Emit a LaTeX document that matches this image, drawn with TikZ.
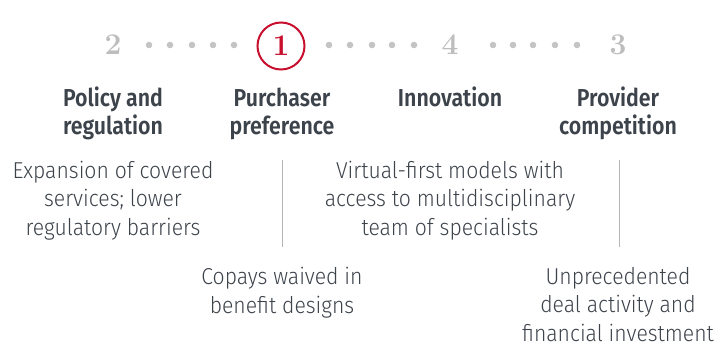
\documentclass[tikz,border=0pt]{standalone}
\usepackage{fontspec}
\newfontfamily\headfont{Fira Sans}[UprightFont={* SemiBold}, FakeStretch=0.87]
\newfontfamily\bodyfont{Fira Sans}[UprightFont={* Light}, FakeStretch=0.92]
\definecolor{numgray}{HTML}{BDBDBD}
\definecolor{dotgray}{HTML}{C4C4C4}
\definecolor{txt}{HTML}{3D434B}
\definecolor{accent}{HTML}{C8102E}
\definecolor{rule}{HTML}{B5B5B5}
\begin{document}
\begin{tikzpicture}[x=1pt,y=-1pt,
  num/.style={font=\fontsize{30}{30}\selectfont\bfseries, text=numgray, inner sep=0pt},
  head/.style={font=\headfont\fontsize{24.5}{28}\selectfont, text=txt, align=center, anchor=base, inner sep=0pt},
  body/.style={font=\bodyfont\fontsize{23}{28.5}\selectfont, text=txt, align=center, anchor=base, inner sep=0pt},
  dot/.style={fill=dotgray}]
\useasboundingbox (0,0) rectangle (718,351);
% step numbers
\node[num] (n2) at (113,45) {2};
\node[num, text=accent] (n1) at (281,46) {1};
\draw[accent, line width=2pt] (281,46) circle (23.5);
\node[num] (n4) at (450,45) {4};
\node[num] (n3) at (618,45) {3};
\foreach \x in {149,170,192,213,234,329,350,372,392,414,493,513,533,555,577}
  \fill[dot] (\x,45) circle (3.3);
% headings (anchor = baseline of last line)
\node[head] (h1) at (113,134) {Policy and\\regulation};
\node[head] (h2) at (282,134) {Purchaser\\preference};
\node[head] (h3) at (450,106) {Innovation};
\node[head] (h4) at (618,134) {Provider\\competition};
% descriptions
\node[body] (d1) at (113,235) {Expansion of covered\\services; lower\\regulatory barriers};
\node[body] (d3) at (450,235) {Virtual-first models with\\access to multidisciplinary\\team of specialists};
\node[body] (d2) at (282,313) {Copays waived in\\benefit designs};
\node[body] (d4) at (618,341) {Unprecedented\\deal activity and\\financial investment};
% separators
\coordinate (s1a) at (282,160); \coordinate (s1b) at (282,247);
\coordinate (s2a) at (619,160); \coordinate (s2b) at (619,247);
\draw[rule, line width=1pt] (s1a) -- (s1b);
\draw[rule, line width=1pt] (s2a) -- (s2b);
\end{tikzpicture}
\end{document}
